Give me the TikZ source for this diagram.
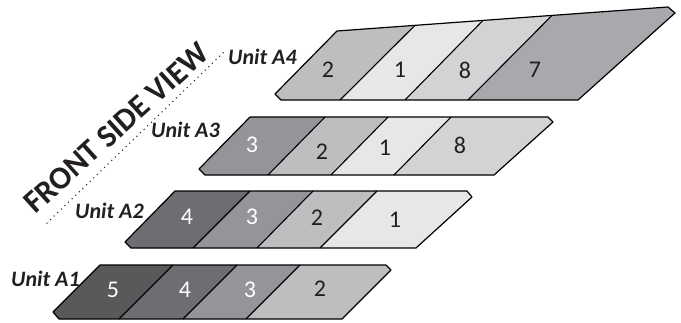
\documentclass[tikz,border=0pt]{standalone}
\usepackage{fontspec}
\setmainfont{Carlito}
\definecolor{cfive}{HTML}{58595B}
\definecolor{cfour}{HTML}{6D6E71}
\definecolor{cthree}{HTML}{939598}
\definecolor{ctwo}{HTML}{BCBEC0}
\definecolor{cone}{HTML}{E6E7E8}
\definecolor{ceight}{HTML}{D1D3D4}
\definecolor{cseven}{HTML}{A7A9AC}
\definecolor{txtdark}{HTML}{231F20}
\begin{document}
\begin{tikzpicture}[x=1pt,y=-1pt,
  outl/.style={draw=black,line width=1.2pt,line join=round},
  divl/.style={draw=black,line width=1.1pt},
  dig/.style={font=\fontsize{24}{24}\selectfont, inner sep=0pt},
  litedig/.style={dig,text=txtdark},
  darkdig/.style={dig,text=white},
  unitlbl/.style={font=\fontsize{22}{22}\selectfont\bfseries\itshape, inner sep=0pt, anchor=base west, text=txtdark},
  dotline/.style={draw=txtdark,line width=1.5pt,line cap=round,dash pattern=on 0pt off 5pt}]
\useasboundingbox (0,0) rectangle (681,322);
% ---------- Unit A1
\fill[cfive] (59,319) -- (53,312) -- (100,265) -- (173,265) -- (119,319) -- cycle;
\fill[cfour] (119,319) -- (173,265) -- (237,265) -- (183,319) -- cycle;
\fill[cthree] (183,319) -- (237,265) -- (300,265) -- (246,319) -- cycle;
\fill[ctwo] (246,319) -- (300,265) -- (386,265) -- (391,270) -- (342,319) -- cycle;
\draw[divl] (173,265) -- (119,319) (237,265) -- (183,319) (300,265) -- (246,319);
\draw[outl] (59,319) -- (53,312) -- (100,265) -- (386,265) -- (391,270) -- (342,319) -- cycle;
\node[darkdig] (a1n5) at (113,290) {5};
\node[darkdig] (a1n4) at (185,290) {4};
\node[darkdig] (a1n3) at (250,290) {3};
\node[litedig] (a1n2) at (320,289) {2};
% ---------- Unit A2
\fill[cfour] (131,248) -- (125,242) -- (175,191) -- (250,191) -- (193,248) -- cycle;
\fill[cthree] (193,248) -- (250,191) -- (313,191) -- (257,248) -- cycle;
\fill[ctwo] (257,248) -- (313,191) -- (377,191) -- (320,248) -- cycle;
\fill[cone] (320,248) -- (377,191) -- (467,191) -- (472,197) -- (416,248) -- cycle;
\draw[divl] (250,191) -- (193,248) (313,191) -- (257,248) (377,191) -- (320,248);
\draw[outl] (131,248) -- (125,242) -- (175,191) -- (467,191) -- (472,197) -- (416,248) -- cycle;
\node[darkdig] (a2n4) at (187,217) {4};
\node[darkdig] (a2n3) at (252,217) {3};
\node[litedig] (a2n2) at (317,218) {2};
\node[litedig] (a2n1) at (395,220) {1};
% ---------- Unit A3
\fill[cthree] (205,175) -- (199,169) -- (250,117) -- (325,117) -- (268,175) -- cycle;
\fill[ctwo] (268,175) -- (325,117) -- (388,117) -- (331,175) -- cycle;
\fill[cone] (331,175) -- (388,117) -- (451,117) -- (394,175) -- cycle;
\fill[ceight] (394,175) -- (451,117) -- (548,117) -- (553,122) -- (494,175) -- cycle;
\draw[divl] (325,117) -- (268,175) (388,117) -- (331,175) (451,117) -- (394,175);
\draw[outl] (205,175) -- (199,169) -- (250,117) -- (548,117) -- (553,122) -- (494,175) -- cycle;
\node[darkdig] (a3n3) at (252,145) {3};
\node[litedig] (a3n2) at (322,152) {2};
\node[litedig] (a3n1) at (385,148) {1};
\node[litedig] (a3n8) at (460,145) {8};
% ---------- Unit A4
\fill[ctwo] (281,100) -- (275,94) -- (337,31) -- (415,25.3) -- (340,100) -- cycle;
\fill[cone] (340,100) -- (415,25.3) -- (483,20.4) -- (405,100) -- cycle;
\fill[ceight] (405,100) -- (483,20.4) -- (552,15.4) -- (468,100) -- cycle;
\fill[cseven] (468,100) -- (552,15.4) -- (668,7) -- (675,13) -- (578,100) -- cycle;
\draw[divl] (415,25.3) -- (340,100) (483,20.4) -- (405,100) (552,15.4) -- (468,100);
\draw[outl] (281,100) -- (275,94) -- (337,31) -- (668,7) -- (675,13) -- (578,100) -- cycle;
\node[litedig] (a4n2) at (328,70) {2};
\node[litedig] (a4n1) at (400,70) {1};
\node[litedig] (a4n8) at (465,70) {8};
\node[litedig] (a4n7) at (535,70) {7};
% ---------- labels
\node[unitlbl] (la1) at (11,286) {Unit A1};
\node[unitlbl] (la2) at (75,218) {Unit A2};
\node[unitlbl] (la3) at (151,137) {Unit A3};
\node[unitlbl] (la4) at (228,64) {Unit A4};
\coordinate (dA) at (47,223);
\coordinate (dB) at (224,52);
\draw[dotline] (dA) -- (dB);
\node[font=\fontsize{32}{32}\selectfont\bfseries, text=txtdark, rotate=42, anchor=base west, inner sep=0pt] (fsv) at (35,215) {FRONT SIDE VIEW};
\end{tikzpicture}
\end{document}
